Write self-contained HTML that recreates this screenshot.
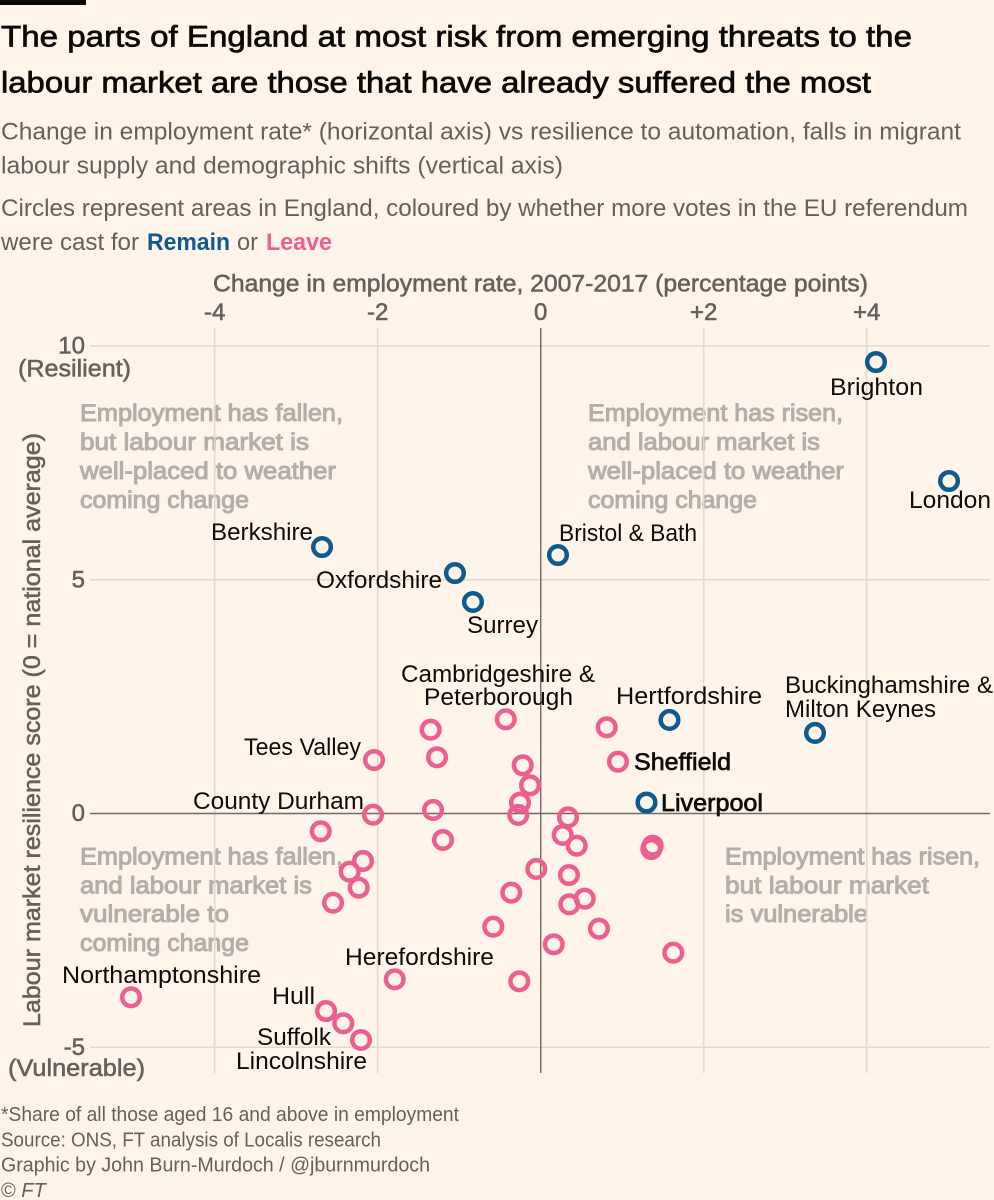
<!DOCTYPE html>
<html lang="en">
<head>
<meta charset="utf-8">
<title>The parts of England at most risk from emerging threats</title>
<style>
  html, body { margin: 0; padding: 0; background: #fff4e9; }
  body { width: 994px; height: 1200px; overflow: hidden; }
  svg { display: block; }
  text { font-family: "Liberation Sans", sans-serif; }
  .title { font-size: 30px; fill: #0a0908; stroke: #0a0908; stroke-width: .7px; }
  .sub { font-size: 24px; fill: #66605c; }
  .axis { font-size: 24px; fill: #66605c; stroke: #66605c; stroke-width: .55px; }
  .note { font-size: 24px; fill: #b3aeaa; stroke: #b3aeaa; stroke-width: 1px; }
  .pt { font-size: 24px; fill: #0d0c0b; }
  .pt-strong { font-size: 24px; fill: #0d0c0b; stroke: #0d0c0b; stroke-width: .7px; }
  .foot { font-size: 20px; fill: #66605c; }
</style>
</head>
<body>
<svg id="chart" xmlns="http://www.w3.org/2000/svg" width="994" height="1200" viewBox="0 0 994 1200">
  <rect x="0" y="0" width="994" height="1200" fill="#fff4e9"/>
  <rect x="0" y="0" width="86" height="5" fill="#0a0908"/>

  <text class="title" x="1" y="46.5" textLength="911" lengthAdjust="spacingAndGlyphs">The parts of England at most risk from emerging threats to the</text>
  <text class="title" x="1" y="92.5" textLength="870" lengthAdjust="spacingAndGlyphs">labour market are those that have already suffered the most</text>

  <text class="sub" x="1" y="139.5" textLength="960" lengthAdjust="spacingAndGlyphs">Change in employment rate* (horizontal axis) vs resilience to automation, falls in migrant</text>
  <text class="sub" x="1" y="173.5" textLength="562" lengthAdjust="spacingAndGlyphs">labour supply and demographic shifts (vertical axis)</text>
  <text class="sub" x="1" y="216" textLength="967" lengthAdjust="spacingAndGlyphs">Circles represent areas in England, coloured by whether more votes in the EU referendum</text>
  <text class="sub" x="1" y="250" textLength="138" lengthAdjust="spacingAndGlyphs">were cast for</text>
  <text x="147" y="250" font-size="24" font-weight="bold" fill="#0f5a8e" textLength="83" lengthAdjust="spacingAndGlyphs">Remain</text>
  <text class="sub" x="237" y="250" textLength="21" lengthAdjust="spacingAndGlyphs">or</text>
  <text x="266" y="250" font-size="24" font-weight="bold" fill="#ec5f8f" textLength="66" lengthAdjust="spacingAndGlyphs">Leave</text>

  <text class="axis" x="213" y="291.5" textLength="655" lengthAdjust="spacingAndGlyphs">Change in employment rate, 2007-2017 (percentage points)</text>
  <text class="axis" transform="translate(40,1027) rotate(-90)" x="0" y="0" textLength="594" lengthAdjust="spacingAndGlyphs">Labour market resilience score (0 = national average)</text>
  <text class="axis" x="18" y="376.5" textLength="113" lengthAdjust="spacingAndGlyphs">(Resilient)</text>
  <text class="axis" x="8" y="1076" textLength="137" lengthAdjust="spacingAndGlyphs">(Vulnerable)</text>

  <g id="notes">
    <text class="note" x="80" y="421" textLength="263" lengthAdjust="spacingAndGlyphs">Employment has fallen,</text>
    <text class="note" x="80" y="450" textLength="229" lengthAdjust="spacingAndGlyphs">but labour market is</text>
    <text class="note" x="80" y="479" textLength="256" lengthAdjust="spacingAndGlyphs">well-placed to weather</text>
    <text class="note" x="80" y="508" textLength="169" lengthAdjust="spacingAndGlyphs">coming change</text>

    <text class="note" x="588" y="421" textLength="255" lengthAdjust="spacingAndGlyphs">Employment has risen,</text>
    <text class="note" x="588" y="450" textLength="232" lengthAdjust="spacingAndGlyphs">and labour market is</text>
    <text class="note" x="588" y="479" textLength="256" lengthAdjust="spacingAndGlyphs">well-placed to weather</text>
    <text class="note" x="588" y="508" textLength="169" lengthAdjust="spacingAndGlyphs">coming change</text>

    <text class="note" x="80" y="864.5" textLength="263" lengthAdjust="spacingAndGlyphs">Employment has fallen,</text>
    <text class="note" x="80" y="893.5" textLength="232" lengthAdjust="spacingAndGlyphs">and labour market is</text>
    <text class="note" x="80" y="922" textLength="149" lengthAdjust="spacingAndGlyphs">vulnerable to</text>
    <text class="note" x="80" y="951" textLength="169" lengthAdjust="spacingAndGlyphs">coming change</text>

    <text class="note" x="725" y="864.5" textLength="255" lengthAdjust="spacingAndGlyphs">Employment has risen,</text>
    <text class="note" x="725" y="893.5" textLength="204" lengthAdjust="spacingAndGlyphs">but labour market</text>
    <text class="note" x="725" y="922" textLength="143" lengthAdjust="spacingAndGlyphs">is vulnerable</text>
  </g>

  <g id="axes"></g>
  <g id="marks"></g>

  <g id="point-labels">
    <text class="pt" x="830" y="395" textLength="93" lengthAdjust="spacingAndGlyphs">Brighton</text>
    <text class="pt" x="909" y="508" textLength="82" lengthAdjust="spacingAndGlyphs">London</text>
    <text class="pt" x="211" y="540" textLength="102" lengthAdjust="spacingAndGlyphs">Berkshire</text>
    <text class="pt" x="559" y="541" textLength="138" lengthAdjust="spacingAndGlyphs">Bristol &amp; Bath</text>
    <text class="pt" x="316" y="588" textLength="126" lengthAdjust="spacingAndGlyphs">Oxfordshire</text>
    <text class="pt" x="467" y="633" textLength="71" lengthAdjust="spacingAndGlyphs">Surrey</text>
    <text class="pt" x="401" y="682" textLength="194" lengthAdjust="spacingAndGlyphs">Cambridgeshire &amp;</text>
    <text class="pt" x="424" y="705" textLength="149" lengthAdjust="spacingAndGlyphs">Peterborough</text>
    <text class="pt" x="616" y="704" textLength="146" lengthAdjust="spacingAndGlyphs">Hertfordshire</text>
    <text class="pt" x="785" y="693" textLength="208" lengthAdjust="spacingAndGlyphs">Buckinghamshire &amp;</text>
    <text class="pt" x="785" y="717" textLength="151" lengthAdjust="spacingAndGlyphs">Milton Keynes</text>
    <text class="pt" x="244" y="755" textLength="117" lengthAdjust="spacingAndGlyphs">Tees Valley</text>
    <text class="pt-strong" x="634" y="770" textLength="97" lengthAdjust="spacingAndGlyphs">Sheffield</text>
    <text class="pt-strong" x="661" y="811" textLength="102" lengthAdjust="spacingAndGlyphs">Liverpool</text>
    <text class="pt" x="193" y="809" textLength="171" lengthAdjust="spacingAndGlyphs">County Durham</text>
    <text class="pt" x="345" y="965" textLength="149" lengthAdjust="spacingAndGlyphs">Herefordshire</text>
    <text class="pt" x="62" y="983" textLength="199" lengthAdjust="spacingAndGlyphs">Northamptonshire</text>
    <text class="pt" x="272" y="1004" textLength="43" lengthAdjust="spacingAndGlyphs">Hull</text>
    <text class="pt" x="257" y="1045" textLength="74" lengthAdjust="spacingAndGlyphs">Suffolk</text>
    <text class="pt" x="236" y="1069" textLength="131" lengthAdjust="spacingAndGlyphs">Lincolnshire</text>
  </g>

  <text class="foot" x="1" y="1121" textLength="458" lengthAdjust="spacingAndGlyphs">*Share of all those aged 16 and above in employment</text>
  <text class="foot" x="1" y="1146.5" textLength="380" lengthAdjust="spacingAndGlyphs">Source: ONS, FT analysis of Localis research</text>
  <text class="foot" x="1" y="1171.5" textLength="429" lengthAdjust="spacingAndGlyphs">Graphic by John Burn-Murdoch / @jburnmurdoch</text>
  <text class="foot" x="1" y="1197">© <tspan font-style="italic">FT</tspan></text>
</svg>

<script>
const xTickValues = [-4, -2, 0, 2, 4];
const xTickLabels = ['-4', '-2', '0', '+2', '+4'];
const yTickValues = [10, 5, 0, -5];
const yTickLabels = ['10', '5', '0', '-5'];

const remainNames = ['brighton', 'london', 'berkshire', 'bristol-bath', 'oxfordshire', 'surrey', 'hertfordshire', 'buckinghamshire-milton-keynes', 'liverpool'];
const remainChange = [4.114, 5.01, -2.683, 0.212, -1.052, -0.831, 1.58, 3.366, 1.298];
const remainScore = [9.668, 7.123, 5.711, 5.54, 5.155, 4.535, 2.011, 1.733, 0.246];

const leaveChange = [-0.429, -1.35, 0.81, -2.045, -1.272, 0.948, -0.221, -0.131, -0.254, -0.275, -1.321, -2.058, 0.335, -2.699, -1.199, 0.27, 0.442, 1.374, 1.357, 1.365, -2.18, -2.344, -2.233, -2.548, -0.054, 0.347, -0.361, 0.54, 0.351, -0.582, 0.715, 0.16, 1.627, -1.791, -0.263, -5.027, -2.634, -2.422, -2.205];
const leaveScore = [2.026, 1.803, 1.855, 1.155, 1.213, 1.119, 1.042, 0.614, 0.242, -0.021, 0.086, -0.015, -0.071, -0.37, -0.556, -0.449, -0.678, -0.678, -0.749, -0.71, -1.005, -1.234, -1.576, -1.897, -1.176, -1.305, -1.683, -1.812, -1.932, -2.411, -2.453, -2.787, -2.967, -3.536, -3.579, -3.921, -4.214, -4.477, -4.834];

const SVG_NS = 'http://www.w3.org/2000/svg';
const xScale = function (v) { return 540.7 + v * 81.5; };
const yScale = function (v) { return 813.5 - v * 46.75; };
const PLOT_LEFT = 90, PLOT_RIGHT = 990, PLOT_TOP = 328, PLOT_BOTTOM = 1073;
const axes = document.getElementById('axes');
const marks = document.getElementById('marks');

function makeLine(x1, y1, x2, y2, color, width) {
  const l = document.createElementNS(SVG_NS, 'line');
  l.setAttribute('x1', x1);
  l.setAttribute('y1', y1);
  l.setAttribute('x2', x2);
  l.setAttribute('y2', y2);
  l.setAttribute('stroke', color);
  l.setAttribute('stroke-width', width);
  return l;
}

function makeTickText(x, y, anchor, content) {
  const t = document.createElementNS(SVG_NS, 'text');
  t.setAttribute('class', 'axis');
  t.setAttribute('x', x);
  t.setAttribute('y', y);
  t.setAttribute('text-anchor', anchor);
  t.textContent = content;
  return t;
}

xTickValues.forEach(function (v, i) {
  const px = xScale(v);
  const isZero = v === 0;
  const line = makeLine(px, PLOT_TOP, px, PLOT_BOTTOM, isZero ? '#6f6a66' : '#e4d9cf', isZero ? 1.4 : 1.6);
  
  
  if (!isZero) axes.insertBefore(line, axes.firstChild); else axes.appendChild(line);
  const label = makeTickText(px, 320, 'middle', xTickLabels[i]);
  
  
  axes.appendChild(label);
});

yTickValues.forEach(function (v, i) {
  const py = yScale(v);
  const isZero = v === 0;
  const line = makeLine(PLOT_LEFT, py, PLOT_RIGHT, py, isZero ? '#6f6a66' : '#e4d9cf', isZero ? 1.4 : 1.6);
  
  
  if (!isZero) axes.insertBefore(line, axes.firstChild); else axes.appendChild(line);
  const label = makeTickText(85, py + 7.5, 'end', yTickLabels[i]);
  
  
  axes.appendChild(label);
});

function makeCircle(xv, yv, color) {
  const c = document.createElementNS(SVG_NS, 'circle');
  c.setAttribute('cx', xScale(xv));
  c.setAttribute('cy', yScale(yv) + 0.5);
  c.setAttribute('r', 8.8);
  c.setAttribute('fill', 'none');
  c.setAttribute('stroke', color);
  c.setAttribute('stroke-width', 4.5);
  return c;
}

leaveChange.forEach(function (v, i) {
  const c = makeCircle(v, leaveScore[i], '#ec5f8f');
  
  
  marks.appendChild(c);
});

remainChange.forEach(function (v, i) {
  const c = makeCircle(v, remainScore[i], '#0f5a8e');
  
  
  marks.appendChild(c);
});
</script>
</body>
</html>
